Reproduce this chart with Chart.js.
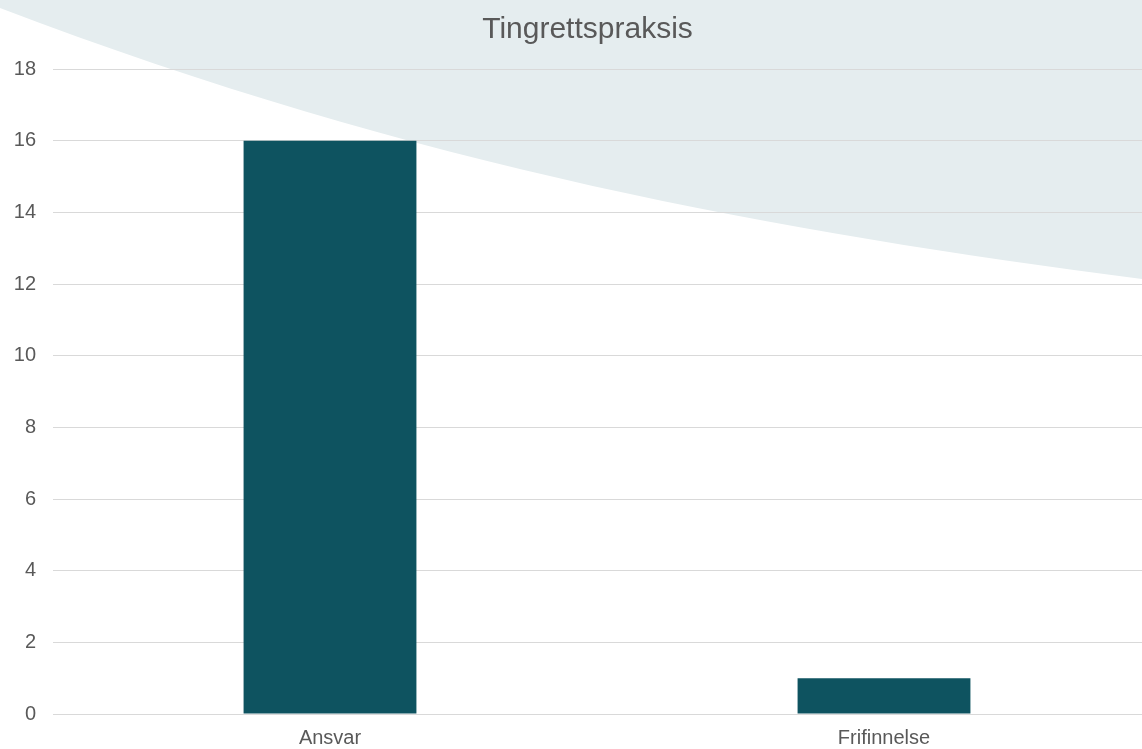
<!DOCTYPE html>
<html>
<head>
<meta charset="utf-8">
<script src="https://cdn.jsdelivr.net/npm/chart.js@4"></script>
<style>
    html, body { margin: 0; padding: 0; background: #fff; overflow: hidden; }
    #wrap { width: 1166px; height: 749px; }
</style>
</head>
<body>
<div id="wrap"><canvas id="praksisChart"></canvas></div>
<script>
const categories = ['Ansvar', 'Frifinnelse'];
const counts = [16, 1];
const yTicks = [0, 2, 4, 6, 8, 10, 12, 14, 16, 18];

const fontFamily = 'Liberation Sans, Arial, sans-serif';

// Dekorativ bakgrunnsbue øverst til høyre
const backgroundSwoosh = {
    id: 'backgroundSwoosh',
    beforeDraw(chart) {
        const ctx = chart.ctx;
        ctx.save();
        ctx.fillStyle = '#E5EDEF';
        ctx.beginPath();
        ctx.moveTo(0, 0);
        ctx.lineTo(0, 8);
        ctx.bezierCurveTo(420, 168, 780, 232, 1142, 279);
        ctx.lineTo(chart.width, 284);
        ctx.lineTo(chart.width, 0);
        ctx.closePath();
        ctx.fill();
        ctx.restore();
    }
};

const ctx = document.getElementById('praksisChart').getContext('2d');
new Chart(ctx, {
    type: 'bar',
    data: {
        labels: categories,
        datasets: [{
            label: 'Tingrettspraksis',
            data: counts,
            backgroundColor: '#0E5360',
            borderWidth: 0,
            barPercentage: 0.312,
            categoryPercentage: 1
        }]
    },
    options: {
        responsive: true,
        maintainAspectRatio: false,
        animation: false,
        layout: { padding: { left: 14, right: 5, top: 0, bottom: 0 } },
        plugins: {
            legend: { display: false },
            tooltip: { enabled: false },
            title: {
                display: true,
                text: 'Tingrettspraksis',
                color: '#595959',
                font: { family: fontFamily, size: 30, weight: 'normal' },
                padding: { top: 12, bottom: 21 }
            }
        },
        scales: {
            y: {
                min: 0,
                max: 18,
                afterBuildTicks: axis => { axis.ticks = yTicks.map(v => ({ value: v })); },
                afterFit: axis => { axis.width = 39; },
                border: { display: false },
                grid: { color: '#D9D9D9', lineWidth: 1, drawTicks: false },
                ticks: {
                    color: '#595959',
                    padding: 17,
                    font: { family: fontFamily, size: 20 }
                }
            },
            x: {
                afterFit: axis => { axis.height = 35; },
                border: { display: false },
                grid: { display: false, drawTicks: false },
                ticks: {
                    color: '#595959',
                    padding: 12,
                    font: { family: fontFamily, size: 20 }
                }
            }
        }
    },
    plugins: [backgroundSwoosh]
});
</script>
</body>
</html>
